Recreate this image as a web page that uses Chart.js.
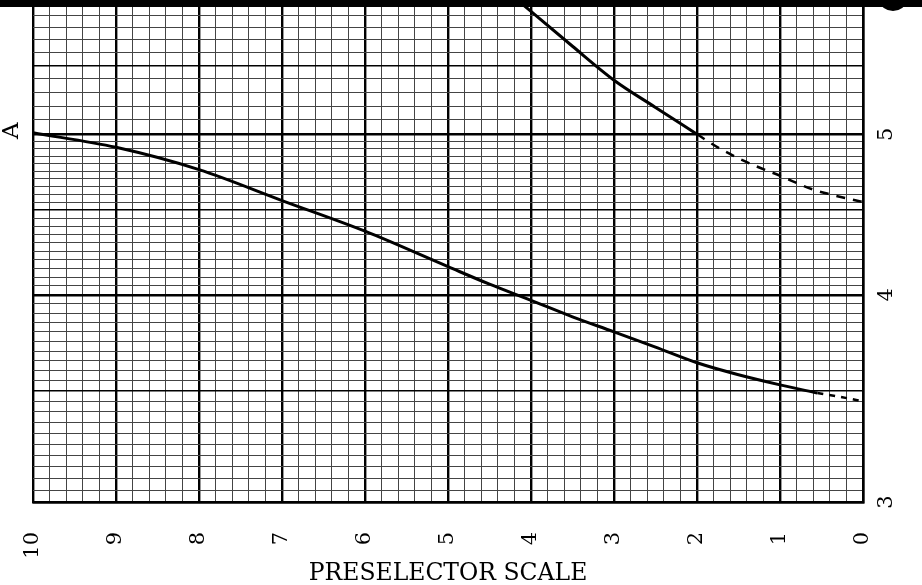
<!DOCTYPE html>
<html>
<head>
<meta charset="utf-8">
<script src="https://cdn.jsdelivr.net/npm/chart.js@4/dist/chart.umd.min.js"></script>
<style>
  body { margin: 0; background: #fff; }
  #wrap { width: 922px; height: 585px; }
</style>
</head>
<body>
<div id="wrap"><canvas id="chart" width="922" height="585"></canvas></div>
<script>
// preselector scale readings (x) and the value on the log axis (y)
const xTickValues = [0, 1, 2, 3, 4, 5, 6, 7, 8, 9, 10];
const yTickValues = [3, 4, 5];

const curveAX = [10, 9, 8, 7, 6, 5, 4.5, 4, 3.5, 3, 2.5, 2, 1.5, 1, 0.55];
const curveAY = [5.01, 4.91, 4.76, 4.56, 4.37, 4.16, 4.06, 3.97, 3.88, 3.8, 3.72, 3.64, 3.58, 3.53, 3.49];
const curveADashX = [0.55, 0.25, 0];
const curveADashY = [3.49, 3.47, 3.45];

const curveBX = [4.12, 4, 3.5, 3, 2.5, 2];
const curveBY = [6.0, 5.93, 5.65, 5.39, 5.19, 5.0];
const curveBDashX = [2, 1.75, 1.4, 1, 0.6, 0.4, 0];
const curveBDashY = [5.0, 4.91, 4.81, 4.72, 4.63, 4.6, 4.55];

const FONT = '"DejaVu Serif", "Liberation Serif", serif';

// graph paper rulings: x every 0.2, y every 0.05 up to 5 then every 0.1
const xGrid = [];
for (let i = 0; i <= 50; i++) xGrid.push(i / 5);
const yGrid = [];
for (let i = 0; i <= 40; i++) yGrid.push(3 + i * 0.05);
for (let i = 1; i <= 10; i++) yGrid.push(5 + i * 0.1);

function toPoints(xs, ys) {
  return xs.map((x, i) => ({ x: x, y: ys[i] }));
}

function isWhole(v) {
  return Math.abs(v - Math.round(v)) < 1e-6;
}

function isHalf(v) {
  return Math.abs(v * 2 - Math.round(v * 2)) < 1e-6;
}

const paperPlugin = {
  id: "paper",
  afterDraw(chart) {
    const { ctx, chartArea, scales } = chart;
    ctx.save();
    // dark edge of the scan
    ctx.fillStyle = "#000";
    ctx.fillRect(0, 0, chart.width, 7);
    ctx.beginPath();
    ctx.ellipse(893, 1, 13, 10, 0, 0, Math.PI * 2);
    ctx.fill();

    // right hand labels, turned like the rest of the sheet
    ctx.font = "21px " + FONT;
    ctx.textAlign = "center";
    ctx.textBaseline = "middle";
    yTickValues.forEach((v) => {
      const y = scales.y.getPixelForValue(v);
      ctx.save();
      ctx.translate(chartArea.right + 24, y);
      ctx.rotate(-Math.PI / 2);
      ctx.fillText(String(v), 0, 0);
      ctx.restore();
    });

    // curve name
    const ax = scales.x.getPixelForValue(curveAX[0]);
    const ay = scales.y.getPixelForValue(curveAY[0]);
    ctx.font = "23px " + FONT;
    ctx.save();
    ctx.translate(ax - 21, ay - 2);
    ctx.rotate(-Math.PI / 2);
    ctx.fillText("A", 0, 0);
    ctx.restore();
    ctx.restore();
  },
};

const lineStyle = {
  showLine: true,
  pointRadius: 0,
  borderColor: "#000",
  backgroundColor: "#000",
  cubicInterpolationMode: "monotone",
  fill: false,
};

new Chart(document.getElementById("chart"), {
  type: "scatter",
  data: {
    datasets: [
      { ...lineStyle, label: "A", data: toPoints(curveAX, curveAY), borderWidth: 3 },
      { ...lineStyle, label: "A (extended)", data: toPoints(curveADashX, curveADashY), borderWidth: 2.5, borderDash: [6, 6] },
      { ...lineStyle, label: "B", data: toPoints(curveBX, curveBY), borderWidth: 3 },
      { ...lineStyle, label: "B (extended)", data: toPoints(curveBDashX, curveBDashY), borderWidth: 2.5, borderDash: [9, 8] },
    ],
  },
  options: {
    responsive: false,
    animation: false,
    layout: { padding: { left: 33, right: 59, top: 3, bottom: 0 } },
    plugins: {
      legend: { display: false },
      tooltip: { enabled: false },
    },
    scales: {
      x: {
        type: "linear",
        reverse: true,
        min: 0,
        max: 10,
        afterBuildTicks: (scale) => {
          scale.ticks = xGrid.map((v) => ({ value: v }));
        },
        afterFit: (scale) => {
          scale.height = 83;
        },
        ticks: {
          autoSkip: false,
          minRotation: 90,
          maxRotation: 90,
          padding: 30,
          color: "#000",
          font: { family: FONT, size: 21 },
          callback: (value) => {
            const r = Math.round(value);
            return isWhole(value) && xTickValues.includes(r) ? String(r) : "";
          },
        },
        grid: {
          drawTicks: false,
          color: (c) => (isWhole(c.tick.value) ? "#000" : "#444"),
          lineWidth: (c) => (isWhole(c.tick.value) ? 2.4 : 1),
        },
        border: { display: true, color: "#000", width: 2.5 },
        title: {
          display: true,
          text: "PRESELECTOR SCALE",
          color: "#000",
          font: { family: FONT, size: 23.5 },
          padding: { top: 0, bottom: -3 },
        },
      },
      y: {
        type: "logarithmic",
        position: "right",
        min: 3,
        max: 6,
        afterBuildTicks: (scale) => {
          scale.ticks = yGrid.map((v) => ({ value: v }));
        },
        ticks: { display: false },
        grid: {
          drawTicks: false,
          color: (c) => (isHalf(c.tick.value) ? "#000" : "#444"),
          lineWidth: (c) => {
            const v = c.tick.value;
            if (isWhole(v)) return 2.4;
            if (isHalf(v)) return 1.6;
            return 1;
          },
        },
        border: { display: true, color: "#000", width: 2.5 },
      },
    },
  },
  plugins: [paperPlugin],
});
</script>
</body>
</html>
